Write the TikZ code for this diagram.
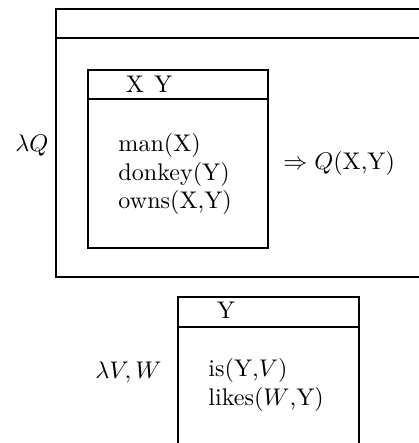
\documentclass[tikz,border=0pt]{standalone}
\usetikzlibrary{positioning,calc}
\tikzset{
  drsbox/.style ={draw,line width=1pt,anchor=north west,inner sep=0pt},
  refs/.style   ={anchor=center,inner sep=0pt},
  conds/.style  ={align=left,anchor=west,inner sep=0pt},
  lam/.style    ={anchor=east,inner sep=0pt}
}

\begin{document}
\begin{tikzpicture}[x=0.415pt,y=-0.415pt, every node/.style={font=\normalsize}]
  \useasboundingbox (0,0) rectangle (419,443);
  \clip (0,0) rectangle (419,443);
  % upper drs
  \node[drsbox,minimum width=168pt,minimum height=111.2pt] (outer) at (55,8) {};
  \draw[line width=1pt] (outer.west |- 0,38) -- (outer.east |- 0,38);
  \node[lam] (lamq) at (49,145) {$\lambda Q$};
  \node[drsbox,minimum width=74.7pt,minimum height=73.9pt] (inner) at (87,69) {};
  \draw[line width=1pt] (inner.west |- 0,99) -- (inner.east |- 0,99);
  \node[refs] (innerrefs) at (149,84) {X\hspace{4.2pt}Y};
  \node[conds] (innerconds) at (118,174) {man(X)\\donkey(Y)\\owns(X,Y)};
  \node[conds] (impl) at (283,163) {$\Rightarrow Q$(X,Y)};
  % lower drs
  \node[drsbox,minimum width=75.1pt,minimum height=72pt] (lower) at (177,296) {};
  \draw[line width=1pt] (lower.west |- 0,327) -- (lower.east |- 0,327);
  \node[refs] (lowerrefs) at (226,310) {Y};
  \node[lam] (lamvw) at (162,372) {$\lambda V, W$};
  \node[conds] (lowerconds) at (208,385) {is(Y,$V$)\\likes($W$,Y)};
\end{tikzpicture}
\end{document}
